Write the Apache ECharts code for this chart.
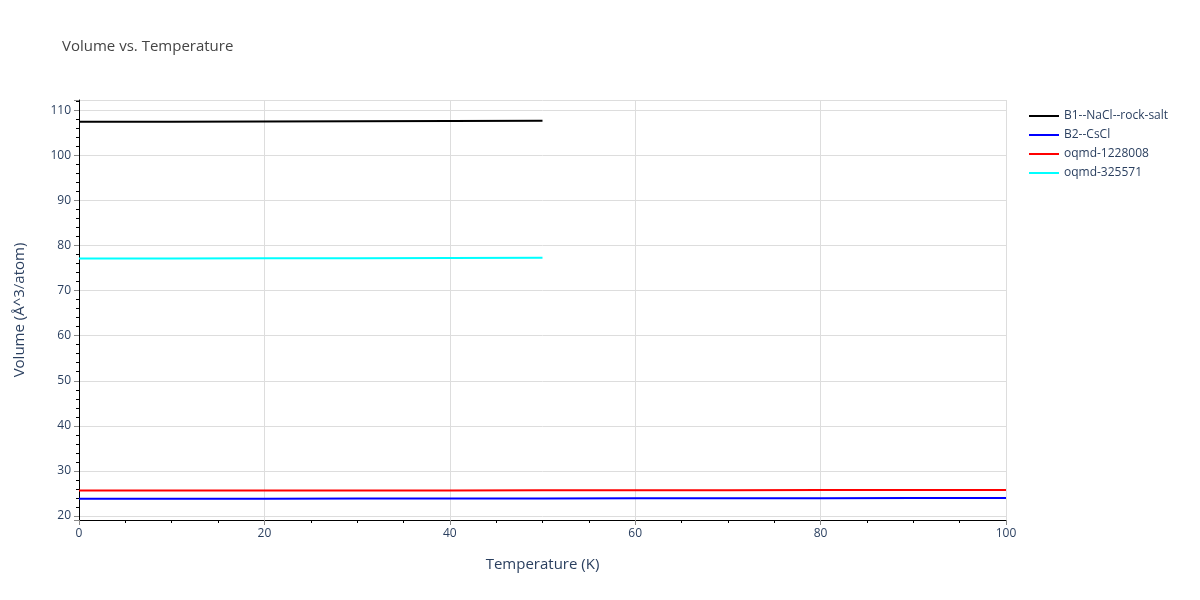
<!DOCTYPE html>
<html>
<head>
<meta charset="utf-8">
<script src="https://cdn.jsdelivr.net/npm/echarts@6/dist/echarts.min.js"></script>
<style>
  html, body { margin: 0; padding: 0; background: #fff; }
  #chart { width: 1200px; height: 600px; }
</style>
</head>
<body>
<div id="chart"></div>
<script>
// temperature points (K)
var tempsShort = [0, 10, 20, 30, 40, 50];
var tempsLong = [0, 10, 20, 30, 40, 50, 60, 70, 80, 90, 100];

// volumes (Å^3/atom)
var b1NaCl = [107.47, 107.5, 107.54, 107.59, 107.64, 107.7];
var b2CsCl = [23.82, 23.83, 23.84, 23.85, 23.87, 23.88, 23.9, 23.92, 23.94, 23.96, 23.98];
var oqmd1228008 = [25.62, 25.63, 25.64, 25.65, 25.67, 25.68, 25.7, 25.72, 25.74, 25.76, 25.78];
var oqmd325571 = [77.12, 77.14, 77.17, 77.2, 77.24, 77.28];

var seriesNames = ['B1--NaCl--rock-salt', 'B2--CsCl', 'oqmd-1228008', 'oqmd-325571'];
var seriesColors = ['#000000', '#0000ff', '#ff0000', '#00ffff'];

function pairs(xs, ys) {
    var out = [];
    for (var i = 0; i < ys.length; i++) out.push([xs[i], ys[i]]);
    return out;
}

var seriesData = [
    pairs(tempsShort, b1NaCl),
    pairs(tempsLong, b2CsCl),
    pairs(tempsLong, oqmd1228008),
    pairs(tempsShort, oqmd325571)
];

var chart = echarts.init(document.getElementById('chart'));
var textColor = '#2a3f5f';
var fontFam = '"Open Sans", Verdana, Arial, sans-serif';

var option = {
    animation: false,
    title: {
        text: 'Volume vs. Temperature',
        left: 57,
        top: 34,
        textStyle: { color: '#444', fontSize: 15, fontWeight: 'normal', fontFamily: fontFam }
    },
    legend: {
        orient: 'vertical',
        left: 1024,
        top: 105,
        itemWidth: 30,
        itemHeight: 2,
        itemGap: 7,
        icon: 'rect',
        textStyle: { color: textColor, fontSize: 12, fontFamily: fontFam },
        data: seriesNames
    },
    grid: { left: 79, right: 194, top: 100, bottom: 80, containLabel: false },
    xAxis: {
        type: 'value',
        min: 0,
        max: 100,
        interval: 20,
        name: 'Temperature (K)',
        nameLocation: 'middle',
        nameGap: 37,
        nameTextStyle: { color: textColor, fontSize: 15, fontFamily: fontFam },
        axisLine: { show: true, onZero: false, lineStyle: { color: '#000', width: 1 } },
        axisTick: { show: true, length: 5, lineStyle: { color: '#888' } },
        minorTick: { show: true, splitNumber: 4, length: 3, lineStyle: { color: '#000' } },
        axisLabel: { color: textColor, fontSize: 12, fontFamily: fontFam, margin: 8 },
        splitLine: { show: true, lineStyle: { color: '#dddddd' } }
    },
    yAxis: {
        type: 'value',
        min: 19.1,
        max: 112.3,
        splitNumber: 10,
        name: 'Volume (Å^3/atom)',
        nameLocation: 'middle',
        nameGap: 52,
        nameTextStyle: { color: textColor, fontSize: 15, fontFamily: fontFam },
        axisLine: { show: true, onZero: false, lineStyle: { color: '#000', width: 1 } },
        axisTick: { show: true, length: 5, lineStyle: { color: '#888' } },
        minorTick: { show: true, splitNumber: 5, length: 3, lineStyle: { color: '#000' } },
        axisLabel: {
            color: textColor, fontSize: 12, fontFamily: fontFam, margin: 8,
            showMinLabel: false, showMaxLabel: false
        },
        splitLine: { show: true, lineStyle: { color: '#dddddd' } }
    },
    series: seriesNames.map(function (name, i) {
        return {
            name: name,
            type: 'line',
            data: seriesData[i],
            showSymbol: false,
            symbol: 'none',
            lineStyle: { color: seriesColors[i], width: 2 },
            itemStyle: { color: seriesColors[i] }
        };
    })
};

chart.setOption(option);
</script>
</body>
</html>
